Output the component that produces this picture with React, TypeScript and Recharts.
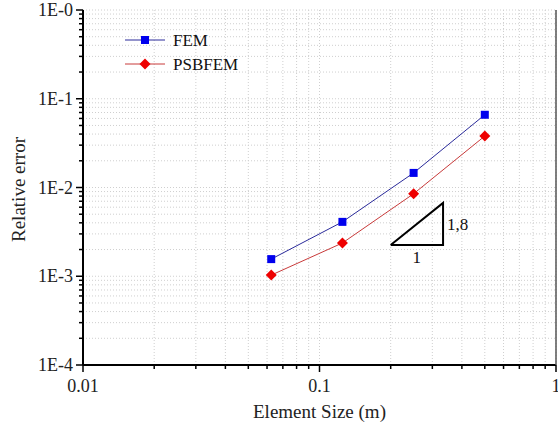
import { LineChart, Line, XAxis, YAxis, CartesianGrid, Legend, ReferenceDot } from 'recharts';

// element size (m)
const elementSizes = [0.0625, 0.125, 0.25, 0.5];
const femError = [1.56e-3, 4.1e-3, 1.46e-2, 6.6e-2];
const psbfemError = [1.03e-3, 2.37e-3, 8.5e-3, 3.8e-2];

// slope triangle (1 : 1.8)
const triX = [0.2, 0.333, 0.333, 0.2];
const triY = [2.25e-3, 2.25e-3, 6.7e-3, 2.25e-3];

const xTicks = [
  0.01, 0.02, 0.03, 0.04, 0.05, 0.06, 0.07, 0.08, 0.09,
  0.1, 0.2, 0.3, 0.4, 0.5, 0.6, 0.7, 0.8, 0.9, 1,
];
const yTicks = [
  1e-4, 2e-4, 3e-4, 4e-4, 5e-4, 6e-4, 7e-4, 8e-4, 9e-4,
  1e-3, 2e-3, 3e-3, 4e-3, 5e-3, 6e-3, 7e-3, 8e-3, 9e-3,
  1e-2, 2e-2, 3e-2, 4e-2, 5e-2, 6e-2, 7e-2, 8e-2, 9e-2,
  1e-1, 2e-1, 3e-1, 4e-1, 5e-1, 6e-1, 7e-1, 8e-1, 9e-1, 1,
];
const xMajor = [0.01, 0.1, 1];
const yMajor = [1e-4, 1e-3, 1e-2, 1e-1, 1];

const FONT = '"Liberation Serif", "Times New Roman", serif';

const femData = elementSizes.map((x, i) => ({ x, y: femError[i] }));
const psbfemData = elementSizes.map((x, i) => ({ x, y: psbfemError[i] }));
const triData = triX.map((x, i) => ({ x, y: triY[i] }));

const isMajor = (list: number[], v: number) => list.some((m) => Math.abs(m - v) / m < 1e-6);

const XTick = (props: any) => {
  const { x, y, payload } = props;
  const major = isMajor(xMajor, payload.value);
  return (
    <g>
      <line x1={x} y1={y} x2={x} y2={y + (major ? 7 : 4)} stroke="#000" strokeWidth={1.5} />
      {major && (
        <text x={x} y={y + 27} textAnchor="middle" fontSize={18} fontFamily={FONT} fill="#222">
          {payload.value}
        </text>
      )}
    </g>
  );
};

const YTick = (props: any) => {
  const { x, y, payload } = props;
  const major = isMajor(yMajor, payload.value);
  const exp = Math.round(-Math.log10(payload.value));
  return (
    <g>
      <line x1={x} y1={y} x2={x - (major ? 7 : 4)} y2={y} stroke="#000" strokeWidth={1.5} />
      {major && (
        <text x={x - 10} y={y + 6} textAnchor="end" fontSize={18} fontFamily={FONT} fill="#222">
          {`1E-${exp}`}
        </text>
      )}
    </g>
  );
};

const Marker = ({ shape, color, cx, cy }: { shape: string; color: string; cx: number; cy: number }) =>
  shape === 'square' ? (
    <rect x={cx - 4} y={cy - 4} width={8} height={8} fill={color} />
  ) : (
    <path d={`M${cx},${cy - 5.5}L${cx + 5.5},${cy}L${cx},${cy + 5.5}L${cx - 5.5},${cy}Z`} fill={color} />
  );

const series = [
  { name: 'FEM', line: '#2a2a9a', marker: '#0000ee', shape: 'square' },
  { name: 'PSBFEM', line: '#c83a3a', marker: '#ee0000', shape: 'diamond' },
];

const renderLegend = () => (
  <svg width={140} height={50}>
    {series.map((s, i) => (
      <g key={s.name}>
        <line x1={2} y1={10 + i * 24} x2={42} y2={10 + i * 24} stroke={s.line} strokeWidth={1} />
        <Marker shape={s.shape} color={s.marker} cx={22} cy={10 + i * 24} />
        <text x={50} y={16 + i * 24} fontSize={17} fontFamily={FONT} fill="#111">
          {s.name}
        </text>
      </g>
    ))}
  </svg>
);

const plainLabel = (text: string, anchor: string, dx: number, dy: number) => (props: any) => {
  const { viewBox } = props;
  return (
    <text
      x={viewBox.x + dx}
      y={viewBox.y + dy}
      textAnchor={anchor}
      fontSize={17}
      fontFamily={FONT}
      fill="#111"
    >
      {text}
    </text>
  );
};

export default function App() {
  return (
    <div style={{ position: 'absolute', left: 0, top: 0, background: '#fff' }}>
      <LineChart width={558} height={433} margin={{ top: 10, right: 0, bottom: 0, left: 0 }}>
        <CartesianGrid stroke="#cfcfcf" strokeDasharray="1 2" />
        <XAxis
          dataKey="x"
          type="number"
          scale="log"
          domain={[0.01, 1]}
          ticks={xTicks}
          interval={0}
          allowDataOverflow
          height={68}
          tickSize={0}
          tickMargin={0}
          tick={<XTick />}
          axisLine={{ stroke: '#000', strokeWidth: 2 }}
          label={{
            content: ({ viewBox }: any) => (
              <text
                x={viewBox.x + viewBox.width / 2}
                y={viewBox.y + 53}
                textAnchor="middle"
                fontSize={19}
                fontFamily={FONT}
                fill="#222"
              >
                Element Size (m)
              </text>
            ),
          }}
        />
        <XAxis xAxisId="top" orientation="top" type="number" scale="log" domain={[0.01, 1]} height={0} tick={false} tickLine={false} axisLine={{ stroke: '#555', strokeWidth: 1.5 }} />
        <YAxis
          type="number"
          scale="log"
          domain={[1e-4, 1]}
          ticks={yTicks}
          interval={0}
          allowDataOverflow
          width={83}
          tickSize={0}
          tickMargin={0}
          tick={<YTick />}
          axisLine={{ stroke: '#000', strokeWidth: 2 }}
          label={{
            content: ({ viewBox }: any) => {
              const cx = viewBox.x + 18;
              const cy = viewBox.y + viewBox.height / 2 + 2;
              return (
                <text
                  x={cx}
                  y={cy}
                  transform={`rotate(-90 ${cx} ${cy})`}
                  textAnchor="middle"
                  dominantBaseline="central"
                  fontSize={19}
                  fontFamily={FONT}
                  fill="#222"
                >
                  Relative error
                </text>
              );
            },
          }}
        />
        <YAxis yAxisId="right" orientation="right" type="number" scale="log" domain={[1e-4, 1]} width={2} tick={false} tickLine={false} axisLine={{ stroke: '#555', strokeWidth: 1.5 }} />
        <Legend
          content={renderLegend}
          layout="vertical"
          align="center"
          verticalAlign="middle"
          wrapperStyle={{ position: 'absolute', left: 123, top: 30, width: 140, height: 50 }}
        />
        <Line
          data={femData}
          dataKey="y"
          name="FEM"
          stroke={series[0].line}
          strokeWidth={1}
          isAnimationActive={false}
          dot={(p: any) => <Marker key={`f${p.index}`} shape="square" color={series[0].marker} cx={p.cx} cy={p.cy} />}
          activeDot={false}
        />
        <Line
          data={psbfemData}
          dataKey="y"
          name="PSBFEM"
          stroke={series[1].line}
          strokeWidth={1}
          isAnimationActive={false}
          dot={(p: any) => <Marker key={`p${p.index}`} shape="diamond" color={series[1].marker} cx={p.cx} cy={p.cy} />}
          activeDot={false}
        />
        <Line
          data={triData}
          dataKey="y"
          name="slope"
          stroke="#000"
          strokeWidth={2}
          dot={false}
          activeDot={false}
          legendType="none"
          isAnimationActive={false}
        />
        <ReferenceDot x={0.333} y={3.9e-3} r={0} label={{ content: plainLabel('1,8', 'start', 4, 6) }} />
        <ReferenceDot x={0.258} y={2.25e-3} r={0} label={{ content: plainLabel('1', 'middle', 0, 18) }} />
      </LineChart>
    </div>
  );
}
